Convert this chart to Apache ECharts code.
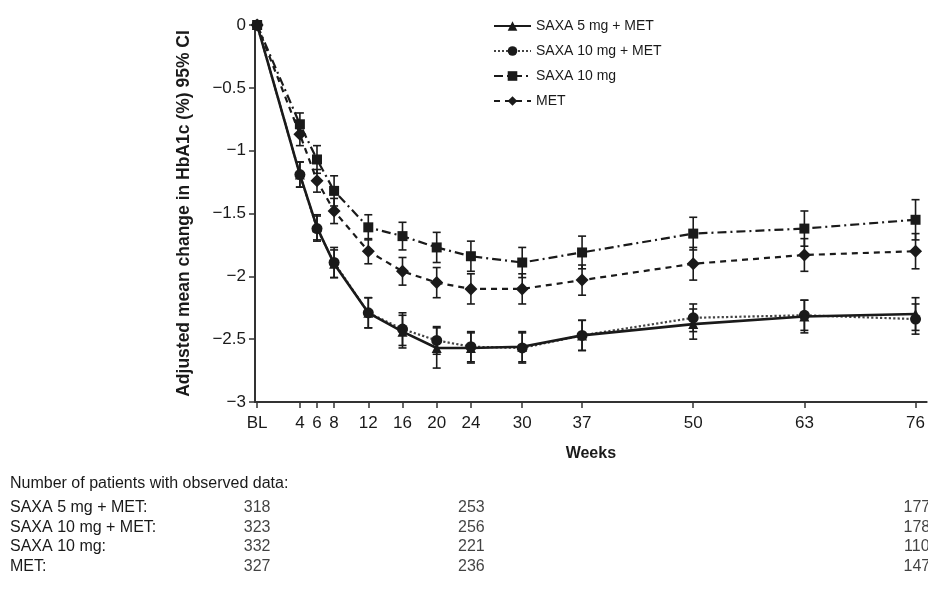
<!DOCTYPE html>
<html>
<head>
<meta charset="utf-8">
<script src="https://cdn.jsdelivr.net/npm/echarts@6/dist/echarts.min.js"></script>
<style>
  html, body { margin: 0; padding: 0; background: #fff; }
  #chart { width: 928px; height: 589px; }
</style>
</head>
<body>
<div id="chart"></div>
<script>
// weeks on the x axis ("BL" = baseline)
const weeks = ["BL", 4, 6, 8, 12, 16, 20, 24, 30, 37, 50, 63, 76];

const groupNames = ["SAXA 5 mg + MET", "SAXA 10 mg + MET", "SAXA 10 mg", "MET"];

// adjusted mean change in HbA1c (%)
const saxa5Met = [0, -1.19, -1.61, -1.90, -2.29, -2.44, -2.57, -2.57, -2.56, -2.47, -2.38, -2.32, -2.30];
const saxa10Met = [0, -1.19, -1.62, -1.89, -2.29, -2.42, -2.51, -2.56, -2.57, -2.47, -2.33, -2.31, -2.34];
const saxa10 = [0, -0.79, -1.07, -1.32, -1.61, -1.68, -1.77, -1.84, -1.89, -1.81, -1.66, -1.62, -1.55];
const met = [0, -0.87, -1.24, -1.48, -1.80, -1.96, -2.05, -2.10, -2.10, -2.03, -1.90, -1.83, -1.80];

// half width of the 95% CI
const saxa5MetCi = [0, 0.10, 0.10, 0.11, 0.12, 0.13, 0.16, 0.12, 0.12, 0.12, 0.12, 0.13, 0.13];
const saxa10MetCi = [0, 0.10, 0.10, 0.12, 0.12, 0.13, 0.11, 0.12, 0.12, 0.12, 0.11, 0.12, 0.12];
const saxa10Ci = [0, 0.09, 0.11, 0.12, 0.10, 0.11, 0.12, 0.12, 0.12, 0.13, 0.13, 0.14, 0.16];
const metCi = [0, 0.09, 0.09, 0.10, 0.10, 0.11, 0.12, 0.12, 0.12, 0.12, 0.13, 0.13, 0.14];

// number of patients with observed data
const countWeeks = ["BL", 24, 76];
const countRows = ["SAXA 5 mg + MET:", "SAXA 10 mg + MET:", "SAXA 10 mg:", "MET:"];
const saxa5MetN = [318, 253, 177];
const saxa10MetN = [323, 256, 178];
const saxa10N = [332, 221, 110];
const metN = [327, 236, 147];

const yTicks = [0, -0.5, -1, -1.5, -2, -2.5, -3];

const FONT = '"Liberation Sans Narrow", "Liberation Sans", Arial, sans-serif';
const INK = "#1a1a1a";

// baseline is drawn a little left of week 0, on the y axis
function weekPos(w) {
  return w === "BL" ? -1 : w;
}

function lineData(vals) {
  return weeks.map((w, i) => [weekPos(w), vals[i]]);
}

function ciData(vals, ci) {
  return weeks.map((w, i) => [weekPos(w), vals[i] - ci[i], vals[i] + ci[i]]);
}

function errorBars(params, api) {
  const x = api.value(0);
  const lo = api.coord([x, api.value(1)]);
  const hi = api.coord([x, api.value(2)]);
  const cap = 4;
  const style = { stroke: INK, lineWidth: 1.6 };
  return {
    type: "group",
    children: [
      { type: "line", shape: { x1: lo[0], y1: lo[1], x2: hi[0], y2: hi[1] }, style: style },
      { type: "line", shape: { x1: hi[0] - cap, y1: hi[1], x2: hi[0] + cap, y2: hi[1] }, style: style },
      { type: "line", shape: { x1: lo[0] - cap, y1: lo[1], x2: lo[0] + cap, y2: lo[1] }, style: style }
    ]
  };
}

function ciSeries(vals, ci) {
  return {
    type: "custom",
    xAxisIndex: 0,
    yAxisIndex: 0,
    renderItem: errorBars,
    data: ciData(vals, ci),
    silent: true,
    z: 1
  };
}

function countSeries(nums, row) {
  return {
    type: "scatter",
    xAxisIndex: 1,
    yAxisIndex: 1,
    symbolSize: 0,
    silent: true,
    data: countWeeks.map((w, i) => [weekPos(w), row, nums[i]]),
    label: {
      show: true,
      position: "inside",
      formatter: p => String(p.value[2]),
      fontFamily: FONT,
      fontSize: 16,
      color: "#111"
    }
  };
}

const lineStyles = [
  { type: "solid", width: 2.6 },
  { type: "dotted", width: 2.2, color: "#444" },
  { type: [9, 4, 2, 4], width: 2.2 },
  { type: [6, 5], width: 2.2 }
];
const symbols = ["triangle", "circle", "rect", "diamond"];
const symbolSizes = [10, 11, 10, 13];
const allVals = [saxa5Met, saxa10Met, saxa10, met];
const allCi = [saxa5MetCi, saxa10MetCi, saxa10Ci, metCi];
const allN = [saxa5MetN, saxa10MetN, saxa10N, metN];

const series = [];
allVals.forEach((vals, i) => {
  series.push(ciSeries(vals, allCi[i]));
});
// draw back to front so the solid line sits on top
[3, 2, 1, 0].forEach(i => {
  series.push({
    name: groupNames[i],
    type: "line",
    xAxisIndex: 0,
    yAxisIndex: 0,
    data: lineData(allVals[i]),
    symbol: symbols[i],
    symbolSize: symbolSizes[i],
    showSymbol: true,
    lineStyle: Object.assign({ color: INK }, lineStyles[i]),
    itemStyle: { color: INK, borderWidth: 0 },
    z: 3 + (3 - i)
  });
});
allN.forEach((nums, i) => {
  series.push(countSeries(nums, i));
});

const axisLineStyle = { color: "#333", width: 2 };

var myChart = echarts.init(document.getElementById("chart"), null, { renderer: "canvas" });
myChart.setOption({
  animation: false,
  backgroundColor: "#fff",
  title: {
    text: "Number of patients with observed data:",
    left: 10,
    top: 476,
    padding: 0,
    textStyle: { fontFamily: FONT, fontSize: 16, fontWeight: "normal", color: "#1a1a1a" }
  },
  legend: {
    data: groupNames,
    orient: "vertical",
    left: 488,
    top: 14,
    itemWidth: 37,
    itemHeight: 12,
    itemGap: 11,
    textStyle: { fontFamily: FONT, fontSize: 14, color: "#1a1a1a" }
  },
  grid: [
    { left: 255, right: 0, top: 25, bottom: 187 },
    { left: 255, right: 0, top: 498, height: 78 }
  ],
  xAxis: [
    {
      type: "value",
      gridIndex: 0,
      min: -1.25,
      max: 77.3,
      name: "Weeks",
      nameLocation: "middle",
      nameGap: 44,
      nameTextStyle: { fontFamily: FONT, fontSize: 16, fontWeight: "bold", color: INK },
      axisLine: { onZero: false, lineStyle: axisLineStyle },
      axisTick: {
        customValues: weeks.map(weekPos),
        length: 6,
        lineStyle: { color: "#333", width: 1.5 }
      },
      axisLabel: {
        customValues: weeks.map(weekPos),
        formatter: v => (v === weekPos("BL") ? "BL" : String(v)),
        fontFamily: FONT,
        fontSize: 17,
        color: "#1a1a1a",
        margin: 13
      },
      splitLine: { show: false }
    },
    {
      type: "value",
      gridIndex: 1,
      min: -1.25,
      max: 77.3,
      show: false
    }
  ],
  yAxis: [
    {
      type: "value",
      gridIndex: 0,
      min: -3,
      max: 0,
      name: "Adjusted mean change in HbA1c (%) 95% CI",
      nameLocation: "middle",
      nameGap: 62,
      nameTextStyle: { fontFamily: FONT, fontSize: 17.5, fontWeight: "bold", color: INK },
      axisLine: { show: true, onZero: false, lineStyle: axisLineStyle },
      axisTick: {
        show: true,
        customValues: yTicks,
        length: 6,
        lineStyle: { color: "#333", width: 1.5 }
      },
      axisLabel: {
        customValues: yTicks,
        formatter: v => (v === 0 ? "0" : "\u2212" + Math.abs(v)),
        fontFamily: FONT,
        fontSize: 17,
        color: "#1a1a1a",
        margin: 9
      },
      splitLine: { show: false }
    },
    {
      type: "category",
      gridIndex: 1,
      inverse: true,
      data: countRows,
      axisLine: { show: false },
      axisTick: { show: false },
      axisLabel: {
        interval: 0,
        align: "left",
        margin: 245,
        fontFamily: FONT,
        fontSize: 16,
        color: "#1a1a1a"
      },
      splitLine: { show: false }
    }
  ],
  series: series
});
</script>
</body>
</html>
